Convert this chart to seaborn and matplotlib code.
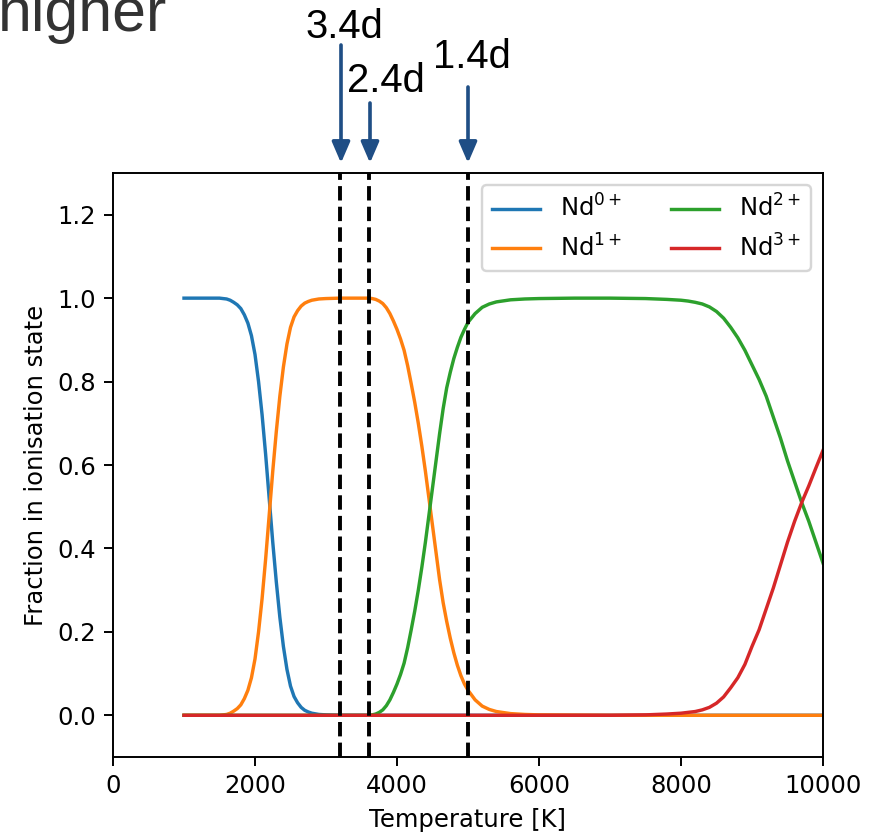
import numpy as np
import pandas as pd
import matplotlib
matplotlib.use("Agg")
import matplotlib.pyplot as plt
import seaborn as sns

# ---------------- data ----------------
temp_nd0 = [1000, 1200, 1400, 1500, 1550, 1600, 1650, 1700, 1750, 1800, 1850,
            1900, 1950, 2000, 2050, 2100, 2150, 2200, 2250, 2300, 2350, 2400,
            2450, 2500, 2550, 2600, 2650, 2700, 2750, 2800, 2900, 3000, 3200,
            10000]
frac_nd0 = [1.0, 1.0, 1.0, 1.0, 0.999, 0.998, 0.995, 0.99, 0.984, 0.975, 0.96,
            0.94, 0.91, 0.865, 0.8, 0.72, 0.625, 0.52, 0.415, 0.32, 0.235, 0.165,
            0.11, 0.07, 0.045, 0.03, 0.019, 0.012, 0.008, 0.005, 0.002, 0.001, 0.0,
            0.0]

temp_nd1 = [1000, 1200, 1400, 1500, 1550, 1600, 1650, 1700, 1750, 1800, 1850,
            1900, 1950, 2000, 2050, 2100, 2150, 2200, 2250, 2300, 2350, 2400,
            2450, 2500, 2550, 2600, 2650, 2700, 2750, 2800, 2900, 3000, 3200,
            3400, 3600, 3650, 3700, 3750, 3800, 3850, 3900, 3950, 4000, 4050,
            4100, 4150, 4200, 4250, 4300, 4350, 4400, 4450, 4500, 4550, 4600,
            4650, 4700, 4750, 4800, 4850, 4900, 4950, 5000, 5100, 5200, 5300,
            5400, 5600, 5800, 6000, 7000, 10000]
frac_nd1 = [0.0, 0.0, 0.0, 0.0, 0.001, 0.002, 0.005, 0.01, 0.016, 0.025, 0.04,
            0.06, 0.09, 0.135, 0.2, 0.28, 0.375, 0.48, 0.585, 0.68, 0.765, 0.835,
            0.89, 0.93, 0.955, 0.97, 0.981, 0.988, 0.992, 0.995, 0.998, 0.999, 1.0,
            1.0, 1.0, 0.999, 0.997, 0.993, 0.987, 0.977, 0.963, 0.945, 0.925, 0.902,
            0.875, 0.838, 0.795, 0.75, 0.7, 0.645, 0.585, 0.52, 0.455, 0.39, 0.325,
            0.27, 0.225, 0.185, 0.15, 0.12, 0.095, 0.075, 0.06, 0.037, 0.022, 0.014,
            0.009, 0.004, 0.002, 0.001, 0.0, 0.0]

temp_nd2 = [1000, 3600, 3650, 3700, 3750, 3800, 3850, 3900, 3950, 4000, 4050,
            4100, 4150, 4200, 4250, 4300, 4350, 4400, 4450, 4500, 4550, 4600,
            4650, 4700, 4750, 4800, 4850, 4900, 4950, 5000, 5100, 5200, 5300,
            5400, 5600, 5800, 6000, 6500, 7000, 7500, 7800, 8000, 8100, 8200,
            8300, 8400, 8500, 8600, 8700, 8800, 8900, 9000, 9100, 9200, 9300,
            9400, 9500, 9600, 9700, 9800, 9900, 10000]
frac_nd2 = [0.0, 0.0, 0.001, 0.003, 0.007, 0.013, 0.023, 0.037, 0.055, 0.075, 0.098,
            0.125, 0.162, 0.205, 0.25, 0.3, 0.355, 0.415, 0.48, 0.545, 0.61, 0.675,
            0.735, 0.785, 0.822, 0.855, 0.882, 0.906, 0.925, 0.942, 0.963, 0.978, 0.986,
            0.991, 0.996, 0.998, 0.999, 1.0, 1.0, 0.999, 0.997, 0.995, 0.993, 0.99,
            0.986, 0.979, 0.968, 0.952, 0.93, 0.905, 0.875, 0.84, 0.805, 0.765, 0.715,
            0.665, 0.61, 0.56, 0.51, 0.465, 0.415, 0.365]

temp_nd3 = [1000, 7000, 7500, 7800, 8000, 8100, 8200, 8300, 8400, 8500, 8600,
            8700, 8800, 8900, 9000, 9100, 9200, 9300, 9400, 9500, 9600, 9700,
            9800, 9900, 10000]
frac_nd3 = [0.0, 0.0, 0.001, 0.003, 0.005, 0.007, 0.009, 0.013, 0.019, 0.029, 0.044,
            0.066, 0.09, 0.122, 0.165, 0.205, 0.255, 0.305, 0.36, 0.415, 0.465, 0.51,
            0.55, 0.593, 0.635]

state_labels = [r"Nd$^{0+}$", r"Nd$^{1+}$", r"Nd$^{2+}$", r"Nd$^{3+}$"]
line_colors = ["#1f77b4", "#ff7f0e", "#2ca02c", "#d62728"]

epoch_temps = [3200, 3600, 5000]
epoch_labels = ["3.4d", "2.4d", "1.4d"]

x_ticks = [0, 2000, 4000, 6000, 8000, 10000]
y_ticks = [0.0, 0.2, 0.4, 0.6, 0.8, 1.0, 1.2]

# ---------------- figure ----------------
W, H = 875, 832
DPI = 175
plt.rcParams["font.family"] = ["DejaVu Sans"]
fig = plt.figure(figsize=(W / DPI, H / DPI), dpi=DPI)
ax = fig.add_axes([113 / W, 1 - 757 / H, 710 / W, 584 / H])

frames = []
for lab, tt, vals in zip(state_labels,
                         [temp_nd0, temp_nd1, temp_nd2, temp_nd3],
                         [frac_nd0, frac_nd1, frac_nd2, frac_nd3]):
    frames.append(pd.DataFrame({"T": tt, "frac": vals, "state": lab}))
df = pd.concat(frames, ignore_index=True)

sns.lineplot(data=df, x="T", y="frac", hue="state", hue_order=state_labels,
             palette=line_colors, linewidth=1.4, ax=ax, legend=False, sort=True)

for t in epoch_temps:
    ax.axvline(t, color="black", linestyle="--", linewidth=1.6)

ax.set_xlim(0, 10000)
ax.set_ylim(-0.1, 1.3)
ax.set_xticks(x_ticks)
ax.set_yticks(y_ticks)
ax.set_yticklabels([f"{v:.1f}" for v in y_ticks])
ax.set_xlabel("Temperature [K]")
ax.set_ylabel("Fraction in ionisation state")

handles = ax.lines[:4]
ax.legend(handles, state_labels, ncol=2, loc="upper right")

# ---------------- annotations above the axes ----------------
def fy(ypix_from_top):
    return H - ypix_from_top

fig.text(-2 / W, fy(31) / H, "higher", fontsize=25, color="#333333",
         family=["Liberation Sans", "DejaVu Sans"], ha="left", va="baseline")

text_pos = [(344, 38), (386, 92), (472, 68)]
arrow_x = [341, 370, 468]
arrow_top = [45, 103, 87]
for lab, (tx, ty) in zip(epoch_labels, text_pos):
    fig.text(tx / W, fy(ty) / H, lab, fontsize=16.5, color="black",
             family=["Liberation Sans", "DejaVu Sans"], ha="center", va="baseline")
for axx, at in zip(arrow_x, arrow_top):
    ax.annotate("", xy=(axx, fy(163)), xytext=(axx, fy(at)),
                xycoords="figure pixels", textcoords="figure pixels",
                arrowprops=dict(arrowstyle="-|>,head_length=0.72,head_width=0.31",
                                color="#1f4e85", lw=1.5, shrinkA=0, shrinkB=0))

fig.savefig("out.png", dpi=DPI)
